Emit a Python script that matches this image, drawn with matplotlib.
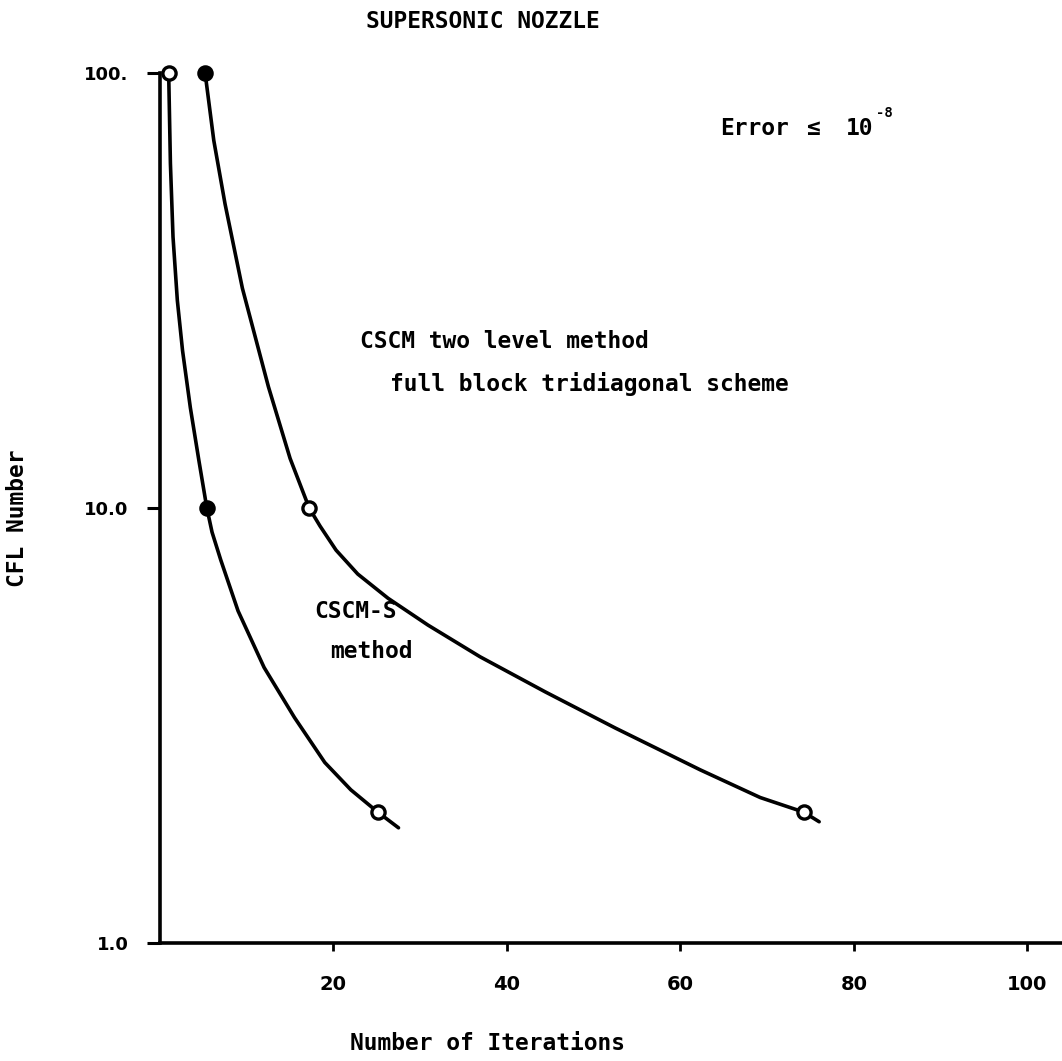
import matplotlib
matplotlib.use("Agg")
import matplotlib.pyplot as plt

# CFL number against iterations needed to reach the error tolerance
cfl_values = [100.0, 10.0, 2.0]
iters_cscm_s = [1.0, 5.4, 25.1]
iters_two_level = [5.2, 17.2, 74.2]

# hand-faired curves drawn through the measured points
cscm_s_curve_x = [1.0, 1.2, 1.5, 2.0, 2.6, 3.5, 4.5, 5.4, 6.0, 7.0, 9.0, 12.0, 15.5, 19.0, 22.0, 25.1, 27.5]
cscm_s_curve_y = [100.0, 62.0, 42.0, 30.0, 23.0, 17.0, 12.8, 10.0, 8.8, 7.6, 5.8, 4.3, 3.3, 2.6, 2.25, 2.0, 1.84]

two_level_curve_x = [5.2, 6.2, 7.5, 9.5, 12.5, 15.0, 17.2, 18.45, 20.3, 22.8, 26.3, 30.9, 36.9, 44.4,
                     52.5, 62.3, 69.2, 74.2, 76.0]
two_level_curve_y = [100.0, 70.0, 50.0, 32.0, 19.0, 13.0, 10.0, 9.09, 8.0, 7.05, 6.2, 5.38, 4.55, 3.78,
                     3.12, 2.5, 2.16, 2.0, 1.9]

# marker fill for each measured point (True = solid dot)
cscm_s_filled = [False, True, False]
two_level_filled = [True, False, False]

x_ticks = [20, 40, 60, 80, 100]
x_tick_labels = ["20", "40", "60", "80", "100"]
y_ticks = [1.0, 10.0, 100.0]
y_tick_labels = ["1.0", "10.0", "100."]

MONO = "DejaVu Sans Mono"
TXT = dict(family=MONO, fontsize=16.5, fontweight="bold")


def px(x, y):
    """Pixel position (from the top-left corner) to figure fraction."""
    return x / 1062, 1 - y / 1061


fig = plt.figure(figsize=(10.62, 10.61), dpi=100)
ax = fig.add_axes([160 / 1062, 118 / 1061, 902 / 1062, 870 / 1061])

ax.set_yscale("log")
ax.set_xlim(0, 104)
ax.set_ylim(1.0, 100.0)

for cx, cy in ((cscm_s_curve_x, cscm_s_curve_y), (two_level_curve_x, two_level_curve_y)):
    ax.plot(cx, cy, color="black", lw=2.6, solid_capstyle="round",
            solid_joinstyle="round", zorder=2)

for xs, filled in ((iters_cscm_s, cscm_s_filled), (iters_two_level, two_level_filled)):
    for x, y, f in zip(xs, cfl_values, filled):
        ax.plot([x], [y], marker="o", ms=9.5, mew=2.4, mec="black",
                mfc="black" if f else "white", zorder=3, clip_on=False)

for side in ("top", "right"):
    ax.spines[side].set_visible(False)
for side in ("left", "bottom"):
    ax.spines[side].set_linewidth(2.6)

ax.set_xticks(x_ticks)
ax.set_xticklabels(x_tick_labels, fontsize=14, fontweight="bold")
ax.set_yticks(y_ticks)
ax.set_yticklabels(y_tick_labels, fontsize=13, fontweight="bold")
ax.yaxis.set_minor_locator(matplotlib.ticker.NullLocator())
ax.tick_params(axis="x", direction="out", length=6, width=2, pad=17)
ax.tick_params(axis="y", direction="out", length=9.5, width=2.2, pad=13)

fig.text(*px(483, 22), "SUPERSONIC NOZZLE", ha="center", va="center", **TXT)

# tolerance note: Error <= 10^-8
fig.text(*px(720, 135), "Error", ha="left", va="baseline", **TXT)
fig.text(*px(806, 135), "\u2264", ha="left", va="baseline", **TXT)
fig.text(*px(846, 135), "10", ha="left", va="baseline", **TXT)
fig.text(*px(876, 117), "-8", ha="left", va="baseline",
         family=MONO, fontsize=10, fontweight="bold")

fig.text(*px(360, 342), "CSCM two level method", ha="left", va="center", **TXT)
fig.text(*px(390, 384), "full block tridiagonal scheme", ha="left", va="center", **TXT)

fig.text(*px(314, 611), "CSCM-S", ha="left", va="center", **TXT)
fig.text(*px(330, 652), "method", ha="left", va="center", **TXT)

fig.text(*px(18, 518), "CFL Number", ha="center", va="center", rotation=90, **TXT)
fig.text(*px(488, 1043), "Number of Iterations", ha="center", va="center", **TXT)

fig.savefig("out.png", dpi=100, facecolor="white")
